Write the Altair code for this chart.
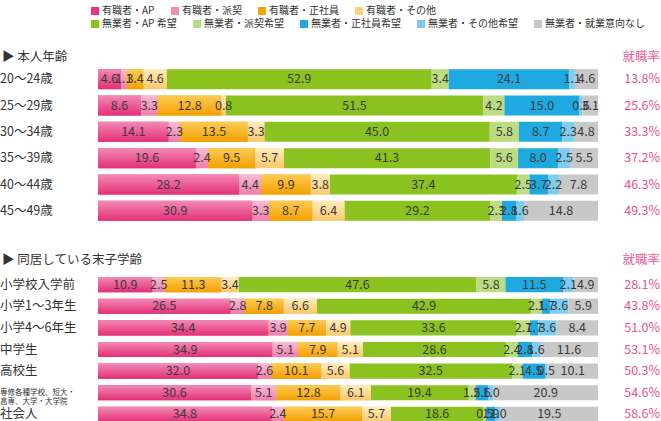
import altair as alt
import pandas as pd

categories = ["有職者・AP", "有職者・派契", "有職者・正社員", "有職者・その他",
              "無業者・AP 希望", "無業者・派契希望", "無業者・正社員希望",
              "無業者・その他希望", "無業者・就業意向なし"]
colors = ["#e8347c", "#f28fb9", "#f5a503", "#fcd07e",
          "#8cc21f", "#bcdc82", "#1fa9e1", "#7ecdf0", "#c8c8c8"]
grad_top = ["#f28ab5", "#f8bcd5", "#fccb55", "#feecc0"]
grad_bot = ["#e42f76", "#ef7dab", "#f4a000", "#fcc86a"]

age_rows = ["20～24歳", "25～29歳", "30～34歳", "35～39歳", "40～44歳", "45～49歳"]
age_values = [
    [4.6, 1.1, 3.4, 4.6, 52.9, 3.4, 24.1, 1.1, 4.6],
    [8.6, 3.3, 12.8, 0.8, 51.5, 4.2, 15.0, 0.6, 3.1],
    [14.1, 2.3, 13.5, 3.3, 45.0, 5.8, 8.7, 2.3, 4.8],
    [19.6, 2.4, 9.5, 5.7, 41.3, 5.6, 8.0, 2.5, 5.5],
    [28.2, 4.4, 9.9, 3.8, 37.4, 2.5, 3.7, 2.2, 7.8],
    [30.9, 3.3, 8.7, 6.4, 29.2, 2.3, 2.8, 1.6, 14.8],
]
age_rates = [13.8, 25.6, 33.3, 37.2, 46.3, 49.3]

child_rows = ["小学校入学前", "小学1～3年生", "小学4～6年生", "中学生", "高校生",
              "専修各種学校、短大・\n高専、大学・大学院", "社会人"]
child_values = [
    [10.9, 2.5, 11.3, 3.4, 47.6, 5.8, 11.5, 2.1, 4.9],
    [26.5, 2.8, 7.8, 6.6, 42.9, 2.1, 1.7, 3.6, 5.9],
    [34.4, 3.9, 7.7, 4.9, 33.6, 2.7, 1.7, 3.6, 8.4],
    [34.9, 5.1, 7.9, 5.1, 28.6, 2.4, 2.8, 1.6, 11.6],
    [32.0, 2.6, 10.1, 5.6, 32.5, 2.1, 4.5, 0.5, 10.1],
    [30.6, 5.1, 12.8, 6.1, 19.4, 1.5, 2.6, 1.0, 20.9],
    [34.8, 2.4, 15.7, 5.7, 18.6, 0.5, 1.9, 1.0, 19.5],
]
child_rates = [28.1, 43.8, 51.0, 53.1, 50.3, 54.6, 58.6]

FONT = "Noto Sans CJK JP"
PINK = "#e8508c"
W = 500


def build(rows, values):
    recs = []
    for r, vals in zip(rows, values):
        total = sum(vals)
        cum = 0.0
        for j, (c, v) in enumerate(zip(categories, vals)):
            x0 = cum / total * 100
            x1 = (cum + v) / total * 100
            recs.append(dict(row=r, cat=c, order=j, value=v, x0=x0, x1=x1,
                             mid=(x0 + x1) / 2, label=f"{v:.1f}"))
            cum += v
    return pd.DataFrame(recs)


def make_legend(y):
    return alt.Legend(orient="none", legendX=-8, legendY=y, direction="horizontal",
                      symbolType="square", symbolSize=64, symbolStrokeWidth=0,
                      labelFontSize=10, labelColor="#333", labelFont=FONT,
                      columnPadding=15, labelOffset=2, title=None, padding=0)


def panel(rows, values, rates, header, height, pad_inner, pad_outer, hdr_y, show_legend):
    df = build(rows, values)
    y = alt.Y("row:N", sort=rows, axis=None,
              scale=alt.Scale(paddingInner=pad_inner, paddingOuter=pad_outer))
    x = alt.X("x0:Q", scale=alt.Scale(domain=[0, 100]), axis=None)
    base = alt.Chart(df)
    emp = base.transform_filter(alt.datum.order < 4).mark_bar().encode(
        x=x, x2="x1:Q", y=y,
        color=alt.Color("cat:N", scale=alt.Scale(domain=categories[:4], range=colors[:4]),
                        legend=make_legend(-60) if show_legend else None))
    unemp = base.transform_filter(alt.datum.order >= 4).mark_bar().encode(
        x=x, x2="x1:Q", y=y,
        color=alt.Color("cat:N", scale=alt.Scale(domain=categories[4:], range=colors[4:]),
                        legend=make_legend(-47) if show_legend else None))
    layers = [emp, unemp]
    for i in range(4):
        g = alt.LinearGradient(gradient="linear", x1=0, x2=0, y1=0, y2=1,
                               stops=[alt.GradientStop(color=grad_top[i], offset=0),
                                      alt.GradientStop(color=grad_bot[i], offset=1)])
        layers.append(base.transform_filter(alt.datum.cat == categories[i])
                      .mark_bar(color=g).encode(x=x, x2="x1:Q", y=y))
    layers.append(base.mark_text(font=FONT, fontSize=12.5, color="#3a3a3a").encode(
        x=alt.X("mid:Q", scale=alt.Scale(domain=[0, 100]), axis=None), y=y, text="label:N"))

    rdf = pd.DataFrame({"row": rows, "rate": [f"{r:.1f}%" for r in rates]})
    rbase = alt.Chart(rdf)
    layers.append(rbase.mark_text(font=FONT, align="left", color="#333", lineBreak="\n",
                                  lineHeight=9).encode(
        x=alt.value(-98), y=y, text="row:N",
        size=alt.condition(alt.datum.row == child_rows[5], alt.value(7.5), alt.value(12.5))))
    layers.append(rbase.mark_text(font=FONT, align="right", color=PINK, fontSize=12.5).encode(
        x=alt.value(W + 62), y=y, text="rate:N"))

    hdf = pd.DataFrame({"h": [header], "r": ["就職率"]})
    hbase = alt.Chart(hdf)
    layers.append(hbase.mark_text(font=FONT, align="left", color="#333", fontSize=12.5).encode(
        x=alt.value(-96), y=alt.value(hdr_y), text="h:N"))
    layers.append(hbase.mark_text(font=FONT, align="right", color="#e9609c", fontSize=12.5).encode(
        x=alt.value(W + 62), y=alt.value(hdr_y), text="r:N"))
    return alt.layer(*layers).resolve_scale(color="independent").properties(width=W, height=height)


p1 = panel(age_rows, age_values, age_rates, "▶ 本人年齢", 158, 0.24, 0.12, -9, True)
p2 = panel(child_rows, child_values, child_rates, "▶ 同居している末子学齢", 145, 0.3, 0.0, -17, False)

chart = alt.vconcat(p1, p2, spacing=30).resolve_scale(color="independent").properties(
    padding={"top": 6, "left": 0, "right": 0, "bottom": 0}, background="white"
).configure_view(stroke=None).configure_text(font=FONT)

chart.save("out.html", embed_options={"renderer": "svg", "actions": False})
